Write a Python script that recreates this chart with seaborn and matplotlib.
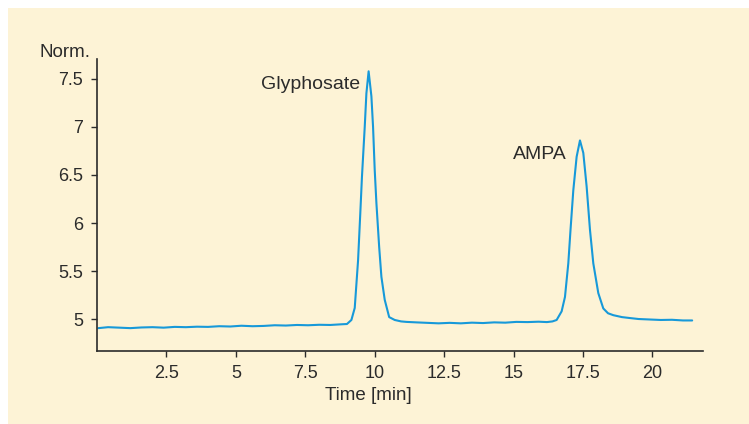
import matplotlib
matplotlib.use("Agg")
import matplotlib.pyplot as plt
import seaborn as sns
import pandas as pd

# ---- data ----
time_min = [0.05, 0.4, 0.8, 1.2, 1.6, 2.0, 2.4, 2.8, 3.2, 3.6, 4.0, 4.4, 4.8, 5.2, 5.6,
            6.0, 6.4, 6.8, 7.2, 7.6, 8.0, 8.4, 8.8, 9.0,
            9.16, 9.28, 9.40, 9.48, 9.54, 9.64, 9.70, 9.78, 9.88, 9.94, 10.00, 10.06,
            10.16, 10.24, 10.36, 10.52, 10.72, 10.95, 11.14,
            11.5, 11.9, 12.3, 12.7, 13.1, 13.5, 13.9, 14.3, 14.7, 15.1, 15.5, 15.9,
            16.2, 16.4,
            16.55, 16.73, 16.85, 16.97, 17.05, 17.15, 17.27, 17.39, 17.51, 17.63, 17.75,
            17.87, 18.05, 18.23, 18.40, 18.59, 18.9, 19.19,
            19.5, 19.9, 20.3, 20.7, 21.1, 21.43]
signal = [4.905, 4.915, 4.91, 4.905, 4.912, 4.915, 4.91, 4.918, 4.915, 4.92, 4.918,
          4.925, 4.922, 4.93, 4.925, 4.928, 4.935, 4.932, 4.938, 4.935, 4.94, 4.938,
          4.945, 4.948,
          4.99, 5.115, 5.61, 6.10, 6.48, 7.00, 7.35, 7.58, 7.32, 7.00, 6.55, 6.21,
          5.75, 5.44, 5.20, 5.02, 4.99, 4.975, 4.97,
          4.965, 4.96, 4.955, 4.96, 4.955, 4.962, 4.958, 4.965, 4.962, 4.97, 4.968, 4.972,
          4.968, 4.975,
          4.99, 5.08, 5.23, 5.58, 5.93, 6.34, 6.69, 6.86, 6.73, 6.38, 5.93,
          5.58, 5.27, 5.11, 5.06, 5.04, 5.02, 5.01,
          5.0, 4.995, 4.99, 4.992, 4.985, 4.985]
x_ticks = [2.5, 5, 7.5, 10, 12.5, 15, 17.5, 20]
x_tick_labels = ["2.5", "5", "7.5", "10", "12.5", "15", "17.5", "20"]
y_ticks = [5, 5.5, 6, 6.5, 7, 7.5]
y_tick_labels = ["5", "5.5", "6", "6.5", "7", "7.5"]
peak_labels = ["Glyphosate", "AMPA"]

assert len(time_min) == len(signal)
df = pd.DataFrame({"time": time_min, "signal": signal})

sns.set_theme(style="white")
plt.rcParams["font.family"] = ["Liberation Sans", "DejaVu Sans"]

BG = "#fdf3d6"
INK = "#2b2b2b"
LINE = "#1799d9"

fig = plt.figure(figsize=(7.49, 4.24), dpi=100)
fig.patch.set_facecolor("white")
fig.patches.append(plt.Rectangle((8 / 749, 0), 1, 1 - 8 / 424, transform=fig.transFigure,
                                 facecolor=BG, edgecolor="none", zorder=-10))
ax = fig.add_axes([97 / 749, 1 - 350.7 / 424, (703 - 97) / 749, (350.7 - 59.3) / 424])
ax.set_facecolor("none")

sns.lineplot(data=df, x="time", y="signal", ax=ax, color=LINE, linewidth=1.5)

ax.set_xlim(0, 21.82)
ax.set_ylim(4.67, 7.705)
ax.set_xticks(x_ticks)
ax.set_xticklabels(x_tick_labels)
ax.set_yticks(y_ticks)
ax.set_yticklabels(y_tick_labels)

for s in ["top", "right"]:
    ax.spines[s].set_visible(False)
for s in ["left", "bottom"]:
    ax.spines[s].set_color(INK)
    ax.spines[s].set_linewidth(1.2)

ax.tick_params(axis="both", direction="out", length=4, width=1, color=INK,
               labelcolor=INK, labelsize=13, pad=6, left=True, bottom=True)

ax.set_xlabel("Time [min]", fontsize=13.5, color=INK)
ax.xaxis.set_label_coords(0.447, -0.125)
ax.set_ylabel("")

ax.text(-0.052, 1.025, "Norm.", transform=ax.transAxes, ha="center", va="center",
        fontsize=13.5, color=INK)
ax.text(9.48, 7.44, peak_labels[0], ha="right", va="center", fontsize=14, color=INK)
ax.text(16.9, 6.71, peak_labels[1], ha="right", va="center", fontsize=14, color=INK)

fig.savefig("out.png", dpi=100, facecolor=fig.get_facecolor())
